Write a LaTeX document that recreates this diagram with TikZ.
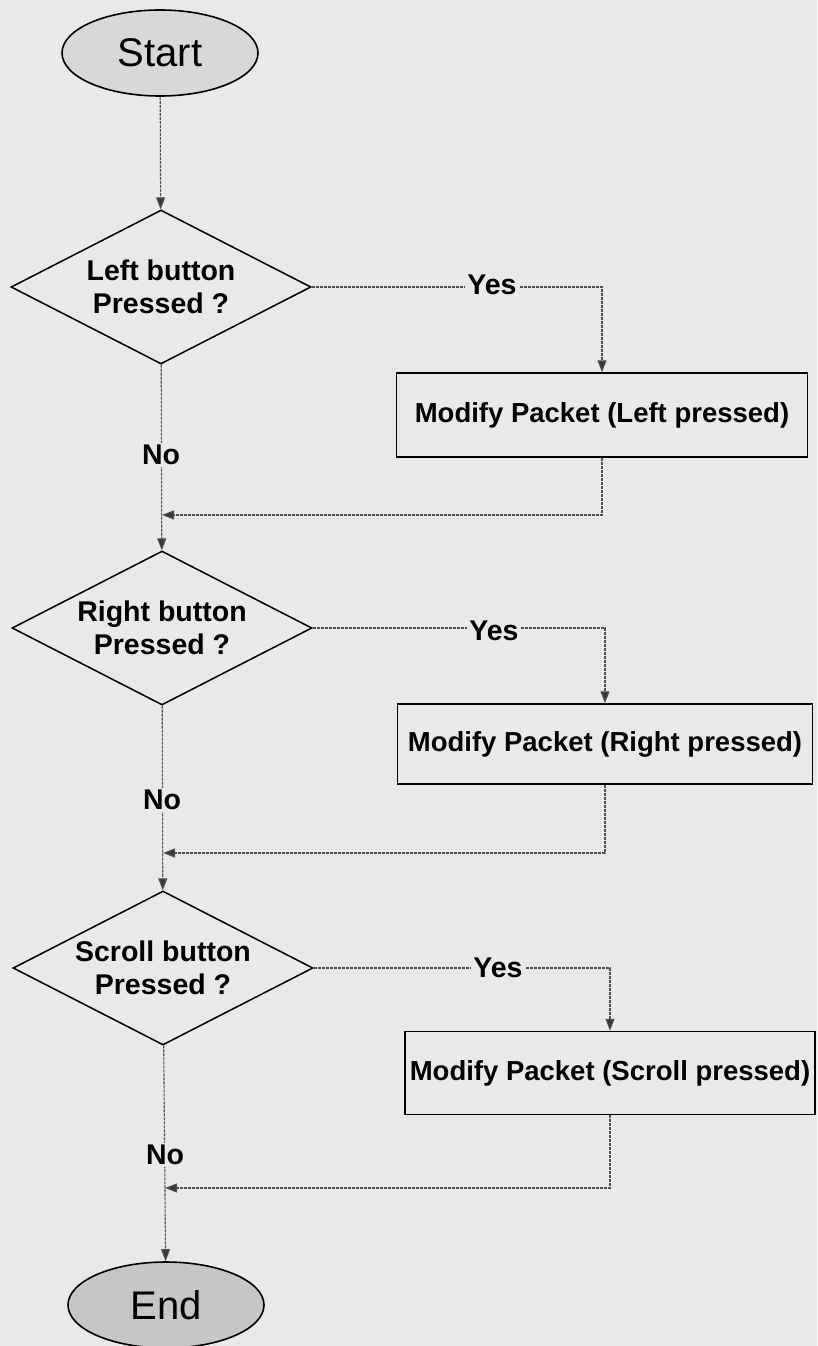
\documentclass[tikz,border=0pt]{standalone}
\usepackage{fontspec}
\setmainfont{Liberation Sans}
\usetikzlibrary{shapes.geometric,arrows.meta}
\definecolor{paper}{RGB}{233,233,231}
\definecolor{startfill}{RGB}{216,216,214}
\definecolor{endfill}{RGB}{198,198,196}
\definecolor{wirecol}{RGB}{80,80,80}
\begin{document}
\begin{tikzpicture}[x=1pt,y=-1pt,
  terminal/.style={ellipse, draw=black, line width=1.6pt, minimum width=196pt,
    minimum height=86pt, inner sep=0pt, font=\fontsize{40}{44}\selectfont},
  decision/.style={diamond, draw=black, line width=1.5pt, minimum width=300pt,
    minimum height=154pt, aspect=1.95, inner sep=0pt, align=center,
    font=\bfseries\fontsize{28.5}{33}\selectfont},
  action/.style={rectangle, draw=black, line width=1.5pt, minimum width=411pt,
    minimum height=84pt, inner sep=0pt, font=\bfseries\fontsize{27.5}{30}\selectfont},
  flow/.style={draw=wirecol, line width=1.1pt, dash pattern=on 3pt off 1pt,
    -{Triangle[length=12pt,width=9pt,fill=wirecol!70!black]}},
  lab/.style={fill=paper, inner sep=2pt, font=\bfseries\fontsize{28.5}{30}\selectfont},
]
% paper background and page extent
\fill[paper] (0,0) rectangle (817,1346);
\useasboundingbox (0,0) rectangle (817,1346);

% main column
\node[terminal, fill=startfill] (start) at (160,53) {Start};
\node[decision] (d1) at (161,287) {Left button\\Pressed ?};
\node[decision] (d2) at (162,628) {Right button\\Pressed ?};
\node[decision] (d3) at (163,968) {Scroll button\\Pressed ?};
\node[terminal, fill=endfill] (end) at (166,1305) {End};

% action boxes on the right
\node[action] (b1) at (602,415) {Modify Packet (Left pressed)};
\node[action, minimum width=415pt, minimum height=80pt] (b2) at (605,744) {Modify Packet (Right pressed)};
\node[action, minimum width=410pt, minimum height=83pt] (b3) at (610,1073) {Modify Packet (Scroll pressed)};

% junction points where the branches rejoin the main column
\coordinate (j1) at (162,515);
\coordinate (j2) at (163,853);
\coordinate (j3) at (165,1188);

% main column connectors
\draw[flow] (start) -- (d1);
\draw[flow] (d1) -- (d2);
\draw[flow] (d2) -- (d3);
\draw[flow] (d3) -- (end);

% yes branches
\draw[flow] (d1.east) -| (b1.north);
\draw[flow] (d2.east) -| (b2.north);
\draw[flow] (d3.east) -| (b3.north);

% return paths
\draw[flow] (b1.south) |- (j1);
\draw[flow] (b2.south) |- (j2);
\draw[flow] (b3.south) |- (j3);

% branch labels
\node[lab] (y1) at (492,285) {Yes};
\node[lab] (y2) at (494,631) {Yes};
\node[lab] (y3) at (498,968) {Yes};
\node[lab] (n1) at (161,455) {No};
\node[lab] (n2) at (162,800) {No};
\node[lab] (n3) at (165,1155) {No};
\end{tikzpicture}
\end{document}
